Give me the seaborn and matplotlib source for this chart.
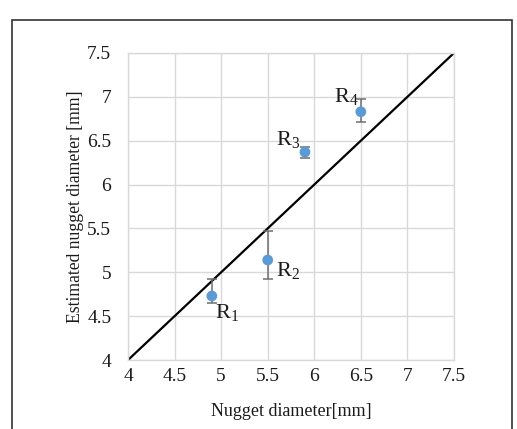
import matplotlib
matplotlib.use("Agg")
import matplotlib.pyplot as plt
import seaborn as sns
import pandas as pd
from matplotlib.patches import Rectangle

# === Data ===
labels = ["1", "2", "3", "4"]
nugget = [4.9, 5.5, 5.9, 6.5]
estimated = [4.73, 5.14, 6.37, 6.83]
err_low = [0.08, 0.22, 0.07, 0.12]
err_high = [0.19, 0.33, 0.06, 0.14]
line_x = [4.0, 7.5]
line_y = [4.0, 7.5]
ticks = [4, 4.5, 5, 5.5, 6, 6.5, 7, 7.5]
tick_labels = ["4", "4.5", "5", "5.5", "6", "6.5", "7", "7.5"]

df = pd.DataFrame({"nugget": nugget, "estimated": estimated})
ref = pd.DataFrame({"x": line_x, "y": line_y})

sns.set_style("white")
plt.rcParams["font.family"] = ["Liberation Serif", "DejaVu Serif"]
plt.rcParams["mathtext.fontset"] = "custom"
plt.rcParams["mathtext.rm"] = "Liberation Serif"
plt.rcParams["text.color"] = "#1a1a1a"
plt.rcParams["axes.labelcolor"] = "#1a1a1a"

fig = plt.figure(figsize=(5.17, 4.29), dpi=100)
ax = fig.add_axes([0.2476, 0.1608, 0.6305, 0.7157])

# outer frame
fig.patches.append(Rectangle((12 / 517, -0.1), 500 / 517, 1.1 - 20 / 429,
                             transform=fig.transFigure, fill=False,
                             edgecolor="#333333", linewidth=1.2))

sns.lineplot(data=ref, x="x", y="y", ax=ax, color="black", linewidth=1.6, zorder=2)
ax.errorbar(nugget, estimated, yerr=[err_low, err_high], fmt="none",
            ecolor="#6e6e6e", elinewidth=1.1, capsize=3.5, capthick=1.1, zorder=3)
sns.scatterplot(data=df, x="nugget", y="estimated", ax=ax, color="#5B9BD5",
                s=60, edgecolor="none", zorder=4)

offsets = [(2, -20), (6, -16), (-21, 1), (-19, 3)]
for lab, x, y, off in zip(labels, nugget, estimated, offsets):
    ax.annotate(r"R$_\mathregular{" + lab + "}$", (x, y), xytext=off,
                textcoords="offset points", fontsize=16, ha="left", va="bottom")

ax.set_xlim(4, 7.5)
ax.set_ylim(4, 7.5)
ax.set_xticks(ticks)
ax.set_xticklabels(tick_labels)
ax.set_yticks(ticks)
ax.set_yticklabels(tick_labels)
ax.tick_params(length=0, labelsize=14, labelcolor="#1a1a1a")
ax.tick_params(axis="x", pad=6)
ax.tick_params(axis="y", pad=12)
ax.grid(True, color="#d9d9d9", linewidth=1)
for s in ax.spines.values():
    s.set_color("#d9d9d9")
    s.set_linewidth(1)
ax.set_xlabel("Nugget diameter[mm]", fontsize=13, labelpad=13)
ax.set_ylabel("Estimated nugget diameter [mm]", fontsize=12.7, labelpad=2)

fig.savefig("out.png", dpi=100)
